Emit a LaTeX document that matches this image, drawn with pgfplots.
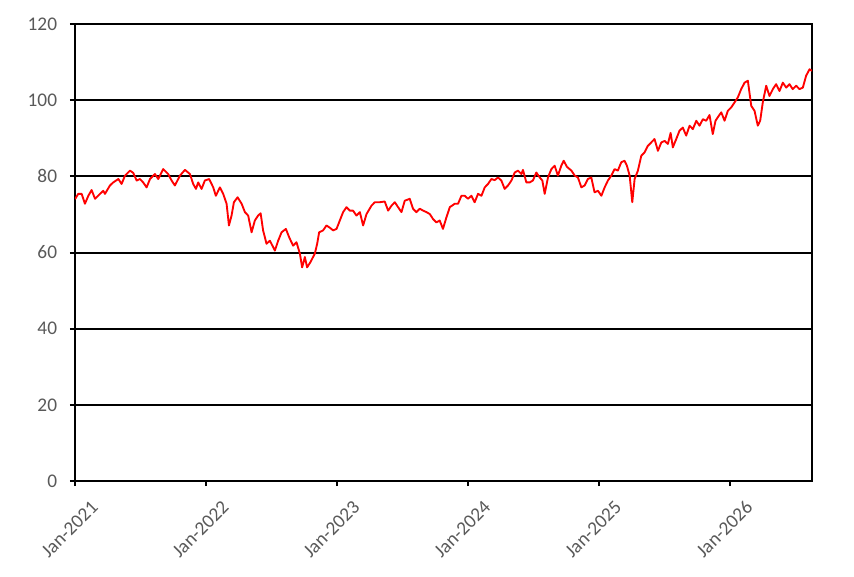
\documentclass[border=0pt]{standalone}
\usepackage{fontspec}
\setmainfont{Carlito}
\usepackage{pgfplots}
\pgfplotsset{compat=1.18}
\definecolor{tickgray}{HTML}{595959}
\begin{document}
\begin{tikzpicture}[x=1pt,y=1pt]
\useasboundingbox (-56.25pt,-71.25pt) rectangle (584.25pt,360.75pt);
\begin{axis}[
  scale only axis,
  width=552.75pt, height=342.75pt,
  xmin=0, xmax=5.63, ymin=0, ymax=120,
  xtick={0,1,2,3,4,5},
  xticklabels={Jan-2021,Jan-2022,Jan-2023,Jan-2024,Jan-2025,Jan-2026},
  ytick={0,20,40,60,80,100,120},
  /pgf/number format/assume math mode=true,
  tick pos=left,
  tick align=outside,
  major tick length=3.75pt,
  tick style={black, line width=1.5pt},
  axis line style={black, line width=1.5pt},
  ymajorgrids,
  major grid style={black, line width=1.5pt},
  every tick label/.append style={font=\fontsize{14.5}{16}\selectfont, text=tickgray},
  xticklabel style={rotate=45, anchor=north east, inner sep=0pt, yshift=-15pt, xshift=1pt},
  yticklabel style={inner sep=0pt, xshift=-9.5pt},
  clip=true,
]
\addplot[red, line width=1.4pt, line join=round] coordinates {
(0.000,74.0) (0.025,75.4) (0.051,75.4) (0.076,72.8) (0.102,74.9) (0.127,76.4) (0.153,74.1)
(0.191,75.4) (0.216,76.2) (0.229,75.4) (0.267,77.6) (0.292,78.4) (0.331,79.3) (0.356,78.0)
(0.382,80.2) (0.420,81.5) (0.445,80.9) (0.471,78.9) (0.496,79.3) (0.521,78.4) (0.547,77.1)
(0.573,79.3) (0.611,80.6) (0.636,79.3) (0.674,81.9) (0.712,80.6) (0.738,78.9) (0.763,77.6)
(0.802,80.2) (0.840,81.7) (0.878,80.6) (0.903,78.0) (0.924,76.7) (0.941,78.4) (0.967,76.7)
(0.992,78.9) (1.025,79.3) (1.056,77.1) (1.076,74.9) (1.107,77.1) (1.132,75.4) (1.158,72.8)
(1.176,67.1) (1.196,69.7) (1.214,73.2) (1.242,74.5) (1.273,72.8) (1.298,70.6) (1.323,69.7)
(1.349,65.3) (1.374,68.4) (1.399,69.7) (1.418,70.3) (1.437,65.8) (1.463,62.3) (1.489,63.1)
(1.527,60.5) (1.552,63.1) (1.578,65.3) (1.611,66.2) (1.636,64.0) (1.666,61.8) (1.692,62.7)
(1.718,59.7) (1.735,56.1) (1.756,58.8) (1.773,56.1) (1.799,57.5) (1.832,59.7) (1.850,62.3)
(1.865,65.3) (1.895,65.8) (1.921,67.1) (1.947,66.5) (1.972,65.8) (1.998,66.2) (2.023,68.4)
(2.048,70.6) (2.074,71.9) (2.099,71.0) (2.124,71.0) (2.150,69.7) (2.176,70.6) (2.201,67.1)
(2.227,70.1) (2.265,72.3) (2.290,73.2) (2.328,73.2) (2.366,73.4) (2.392,71.0) (2.418,72.3)
(2.443,73.2) (2.468,71.9) (2.494,70.6) (2.519,73.6) (2.557,74.1) (2.582,71.5) (2.608,70.6)
(2.634,71.5) (2.659,71.0) (2.685,70.6) (2.710,70.1) (2.735,68.8) (2.761,67.9) (2.786,68.4)
(2.811,66.2) (2.837,69.2) (2.863,71.9) (2.901,72.8) (2.926,72.8) (2.952,74.9) (2.977,74.9)
(3.002,74.1) (3.028,74.9) (3.053,73.2) (3.079,75.4) (3.105,74.9) (3.130,77.1) (3.155,78.0)
(3.181,79.3) (3.206,79.0) (3.231,79.7) (3.257,78.9) (3.282,76.7) (3.308,77.6) (3.334,78.9)
(3.359,81.0) (3.384,81.5) (3.410,80.6) (3.422,81.7) (3.448,78.4) (3.473,78.4) (3.498,78.9)
(3.524,81.0) (3.550,79.7) (3.570,78.9) (3.588,75.4) (3.613,79.7) (3.639,81.9) (3.664,82.8)
(3.689,80.2) (3.715,82.8) (3.733,84.1) (3.758,82.5) (3.792,81.5) (3.817,80.2) (3.842,79.7)
(3.868,77.1) (3.893,77.6) (3.918,79.3) (3.944,79.7) (3.969,75.8) (3.995,76.2) (4.021,74.9)
(4.046,77.1) (4.071,78.9) (4.097,80.2) (4.122,81.9) (4.147,81.5) (4.173,83.7) (4.198,84.1)
(4.216,82.8) (4.237,80.2) (4.257,73.2) (4.275,79.3) (4.300,81.5) (4.326,85.4) (4.351,86.3)
(4.376,88.0) (4.402,88.9) (4.427,89.8) (4.453,86.7) (4.479,88.9) (4.504,89.3) (4.529,88.5)
(4.550,91.4) (4.567,87.6) (4.593,89.8) (4.618,92.0) (4.643,92.8) (4.669,90.7) (4.695,93.3)
(4.720,92.4) (4.746,94.6) (4.771,93.3) (4.796,95.0) (4.822,94.6) (4.847,96.1) (4.872,91.1)
(4.893,94.6) (4.918,95.9) (4.937,96.8) (4.962,94.6) (4.987,97.2) (5.013,98.1) (5.038,99.4)
(5.063,100.7) (5.089,102.9) (5.115,104.6) (5.140,105.1) (5.166,98.5) (5.191,97.2) (5.216,93.3)
(5.234,94.6) (5.254,99.4) (5.280,103.8) (5.305,101.1) (5.331,102.9) (5.356,104.2) (5.382,102.4)
(5.407,104.6) (5.433,103.3) (5.458,104.2) (5.483,102.9) (5.509,103.8) (5.534,102.9) (5.560,103.3)
(5.585,106.4) (5.611,108.1) (5.630,107.7)
};
\end{axis}
\end{tikzpicture}
\end{document}
